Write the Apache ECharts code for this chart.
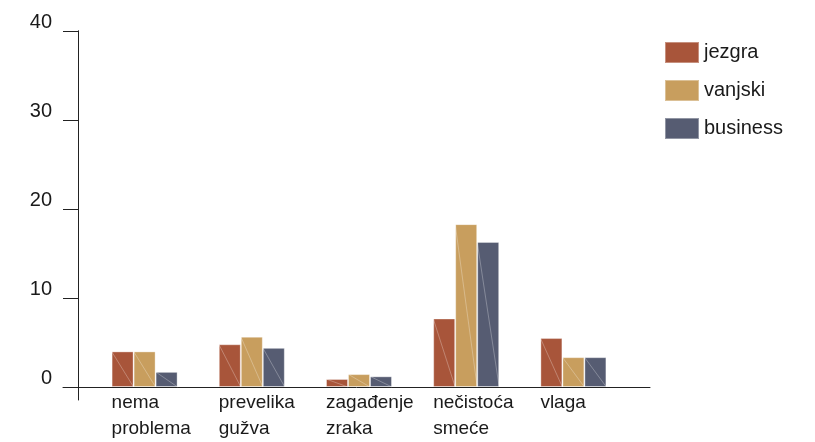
<!DOCTYPE html>
<html>
<head>
<meta charset="utf-8">
<script src="https://cdn.jsdelivr.net/npm/echarts@6/dist/echarts.min.js"></script>
<style>html,body{margin:0;padding:0;background:#fff}#c{width:815px;height:442px}</style>
</head>
<body>
<div id="c"></div>
<script>
const categories = ['nema\nproblema', 'prevelika\ngužva', 'zagađenje\nzraka', 'nečistoća\nsmeće', 'vlaga'];
const seriesNames = ['jezgra', 'vanjski', 'business'];
const jezgra = [4.0, 4.8, 0.9, 7.7, 5.5];
const vanjski = [4.0, 5.65, 1.45, 18.3, 3.35];
const business = [1.7, 4.4, 1.2, 16.3, 3.35];
const yTicks = [0, 10, 20, 30, 40];
const colors = ['#A8553A', '#C89E5E', '#565C72'];

const font = 'Liberation Sans, Arial, sans-serif';
const chart = echarts.init(document.getElementById('c'), null, {renderer: 'canvas'});
const values = [jezgra, vanjski, business];
const BW = 22;

const barSeries = seriesNames.map((name, i) => ({
  name: name,
  type: 'bar',
  xAxisIndex: 0, yAxisIndex: 0,
  data: values[i],
  barWidth: BW,
  barGap: '0%',
  itemStyle: {color: colors[i], borderColor: 'rgba(255,255,255,0.35)', borderWidth: 1}
}));
const diagSeries = seriesNames.map((name, i) => ({
  name: name + '_diag',
  type: 'custom',
  xAxisIndex: 0, yAxisIndex: 0,
  silent: true,
  z: 5,
  data: values[i].map((v, k) => [k, v]),
  renderItem: function (params, api) {
    const top = api.coord([api.value(0), api.value(1)]);
    const base = api.coord([api.value(0), 0]);
    const cx = top[0] + (i - 1) * BW;
    return {
      type: 'line',
      shape: {x1: cx - BW / 2, y1: top[1], x2: cx + BW / 2, y2: base[1]},
      style: {stroke: 'rgba(255,255,255,0.28)', lineWidth: 1}
    };
  }
}));

chart.setOption({
  animation: false,
  textStyle: {fontFamily: font},
  legend: {
    orient: 'vertical', left: 659, top: 36,
    itemWidth: 34, itemHeight: 21, itemGap: 15,
    icon: 'rect',
    textStyle: {fontSize: 20, color: '#1a1a1a', fontFamily: font},
    data: seriesNames
  },
  grid: [
    {left: 91, right: 188, top: 31, bottom: 55},
    {left: 78, right: 188, top: 31, bottom: 42},
    {left: 63, right: 165, top: 31, bottom: 55},
    {left: 58, right: 221, top: 31, bottom: 55}
  ],
  xAxis: [
    {gridIndex: 0, type: 'category', data: categories, axisLine: {show: false}, axisTick: {show: false}, axisLabel: {show: false}},
    {gridIndex: 1, type: 'value', show: false},
    {gridIndex: 2, type: 'value', min: 0, max: 1, axisLine: {show: true, lineStyle: {color: '#222', width: 1}}, axisTick: {show: false}, axisLabel: {show: false}, splitLine: {show: false}},
    {gridIndex: 3, type: 'category', data: categories, axisLine: {show: false}, axisTick: {show: false},
      axisLabel: {align: 'left', margin: 13, fontSize: 19, lineHeight: 26, color: '#1a1a1a', fontFamily: font, interval: 0}}
  ],
  yAxis: [
    {gridIndex: 0, type: 'value', min: yTicks[0], max: yTicks[yTicks.length - 1], interval: 10, offset: 13,
      axisLine: {show: true, lineStyle: {color: '#222', width: 1}},
      axisTick: {show: true, length: 15, lineStyle: {color: '#222', width: 1}},
      axisLabel: {margin: 26, fontSize: 20, color: '#1a1a1a', fontFamily: font, verticalAlign: 'bottom', lineHeight: 17},
      splitLine: {show: false}},
    {gridIndex: 1, type: 'value', min: 0, max: 1, axisLine: {show: true, lineStyle: {color: '#222', width: 1}}, axisTick: {show: false}, axisLabel: {show: false}, splitLine: {show: false}},
    {gridIndex: 2, type: 'value', show: false},
    {gridIndex: 3, type: 'value', show: false}
  ],
  series: barSeries.concat(diagSeries)
});
</script>
</body>
</html>
